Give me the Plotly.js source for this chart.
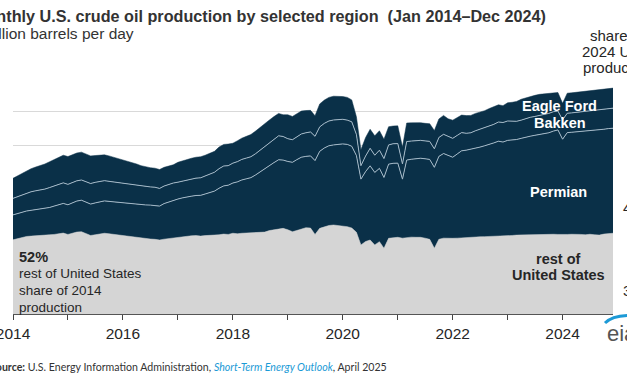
<!DOCTYPE html>
<html><head><meta charset="utf-8">
<script src="https://cdn.plot.ly/plotly-3.0.1.min.js"></script>
<style>html,body{margin:0;padding:0;background:#fff;overflow:hidden}</style>
</head><body><div id="chart" style="width:627px;height:376px"></div>
<script>
// Monthly values, Jan 2014 - Dec 2024, million barrels per day
const restOfUS = [
 4.40,4.48,4.55,4.60,4.62,4.65,4.66,4.68,4.70,4.72,4.76,4.80,
 4.72,4.80,4.86,4.88,4.78,4.66,4.70,4.76,4.79,4.76,4.72,4.69,
 4.66,4.62,4.59,4.55,4.50,4.46,4.45,4.43,4.39,4.44,4.48,4.50,
 4.55,4.59,4.62,4.64,4.65,4.62,4.65,4.66,4.65,4.70,4.74,4.72,
 4.79,4.76,4.79,4.80,4.79,4.80,4.82,4.86,4.95,5.00,5.05,5.08,
 5.00,4.88,4.95,5.05,5.12,5.10,4.72,5.08,5.18,5.25,5.28,5.25,
 5.22,5.18,5.10,4.85,4.10,4.30,4.39,4.10,4.29,3.90,4.49,4.52,
 4.55,4.50,4.55,4.56,4.55,4.55,4.50,4.43,3.90,4.43,4.50,4.48,
 4.49,4.50,4.52,4.55,4.55,4.57,4.58,4.59,4.60,4.62,4.63,4.60,
 4.65,4.66,4.68,4.69,4.69,4.70,4.68,4.70,4.72,4.72,4.73,4.72,
 4.70,4.72,4.73,4.74,4.72,4.70,4.73,4.70,4.68,4.74,4.76,4.79];
const permian = [
 1.48,1.48,1.49,1.51,1.53,1.54,1.55,1.57,1.62,1.68,1.74,1.76,
 1.76,1.80,1.84,1.87,1.86,1.86,1.89,1.91,1.92,1.92,1.93,1.94,
 1.95,1.97,1.98,1.99,2.00,2.01,2.01,2.02,2.01,2.11,2.17,2.22,
 2.27,2.30,2.33,2.35,2.38,2.42,2.47,2.54,2.64,2.76,2.86,2.92,
 2.98,3.08,3.16,3.22,3.30,3.45,3.62,3.76,3.86,3.98,4.10,4.05,
 4.05,4.12,4.20,4.25,4.23,4.28,4.38,4.57,4.67,4.73,4.75,4.80,
 4.87,4.88,4.85,4.55,3.90,4.15,4.40,4.30,4.35,4.20,4.40,4.42,
 4.40,3.50,4.58,4.62,4.66,4.69,4.71,4.74,4.80,4.92,5.02,4.95,
 4.81,5.00,5.16,5.17,5.22,5.26,5.32,5.39,5.45,5.53,5.62,5.60,
 5.65,5.66,5.67,5.73,5.81,5.85,5.92,5.95,5.96,6.03,6.12,6.20,
 5.67,6.04,6.05,6.06,6.10,6.14,6.13,6.18,6.24,6.22,6.24,6.23];
const bakken = [
 0.98,1.01,1.04,1.07,1.10,1.12,1.14,1.16,1.18,1.20,1.22,1.22,
 1.21,1.20,1.20,1.20,1.21,1.22,1.22,1.21,1.20,1.19,1.18,1.18,
 1.17,1.15,1.13,1.12,1.11,1.09,1.08,1.07,1.05,1.04,1.04,1.05,
 1.00,1.00,1.00,1.01,1.03,1.04,1.06,1.09,1.12,1.16,1.18,1.16,
 1.18,1.20,1.22,1.23,1.24,1.26,1.28,1.31,1.35,1.39,1.42,1.40,
 1.35,1.34,1.36,1.38,1.40,1.42,1.44,1.45,1.46,1.47,1.48,1.48,
 1.46,1.44,1.45,1.25,0.80,0.92,1.04,1.02,1.08,1.12,1.14,1.16,
 1.16,0.90,1.10,1.08,1.07,1.06,1.06,1.07,1.10,1.12,1.14,1.10,
 1.12,1.10,1.08,1.00,0.98,1.04,1.06,1.06,1.08,1.10,1.14,1.16,
 1.15,1.12,1.08,1.08,1.09,1.12,1.12,1.13,1.14,1.15,1.15,1.12,
 1.15,1.15,1.15,1.16,1.17,1.18,1.18,1.20,1.20,1.19,1.18,1.19];
const eagleFord = [
 1.19,1.23,1.27,1.32,1.37,1.41,1.45,1.49,1.53,1.57,1.60,1.64,
 1.65,1.65,1.65,1.65,1.65,1.64,1.59,1.55,1.53,1.51,1.47,1.43,
 1.37,1.34,1.30,1.24,1.19,1.16,1.14,1.13,1.12,1.11,1.11,1.08,
 1.18,1.20,1.22,1.24,1.24,1.25,1.24,1.23,1.24,1.28,1.28,1.28,
 1.18,1.24,1.26,1.29,1.32,1.34,1.36,1.36,1.35,1.34,1.33,1.29,
 1.42,1.38,1.36,1.36,1.32,1.28,1.22,1.36,1.38,1.40,1.41,1.39,
 1.35,1.35,1.30,1.05,0.95,1.10,1.13,1.15,1.15,1.15,1.08,1.05,
 1.05,1.00,1.10,1.08,1.07,1.05,1.04,1.05,1.08,1.10,1.12,1.05,
 1.08,1.05,1.04,1.05,1.03,1.03,1.02,1.02,1.06,1.05,1.02,1.00,
 1.08,1.12,1.18,1.24,1.24,1.23,1.25,1.25,1.24,1.20,1.15,1.10,
 0.98,1.19,1.19,1.19,1.21,1.20,1.21,1.22,1.18,1.20,1.20,1.19];
const tickYears = ['2014','2015','2016','2017','2018','2019','2020','2021','2022','2023','2024'];
const tickLabels = ['2014','','2016','','2018','','2020','','2022','','2024'];

// month axis Jan 2014 .. Dec 2024
const months = [];
for (let y = 2014; y <= 2024; y++) for (let m = 1; m <= 12; m++) months.push(y + '-' + String(m).padStart(2,'0') + '-01');

const NAVY = '#0a3048', GRAY = '#d5d5d5', SEP = '#a3b8c7';
const FONT = 'Liberation Sans, Arial, sans-serif';

const traces = [
 {x: months, y: restOfUS, name:'rest of United States', stackgroup:'one', mode:'lines',
  fillcolor: GRAY, line:{color: GRAY, width:0.5}},
 {x: months, y: permian, name:'Permian', stackgroup:'one', mode:'lines',
  fillcolor: NAVY, line:{color: SEP, width:1}},
 {x: months, y: bakken, name:'Bakken', stackgroup:'one', mode:'lines',
  fillcolor: NAVY, line:{color: SEP, width:1}},
 {x: months, y: eagleFord, name:'Eagle Ford', stackgroup:'one', mode:'lines',
  fillcolor: NAVY, line:{color: NAVY, width:0.5}}
];

// pixel -> paper helpers (plot area: x 13..613, y 78..314)
const px = v => (v - 13) / 600;
const py = v => (314 - v) / 236;

function ann(text, x, y, opts) {
  return Object.assign({text, x: px(x), y: py(y), xref:'paper', yref:'paper',
    showarrow:false, xanchor:'left', yanchor:'middle',
    font:{family:FONT, size:14, color:'#262626'}}, opts || {});
}

const annotations = [
  ann('<b>Monthly U.S. crude oil production by selected region  (Jan 2014–Dec 2024)</b>', 548, 16,
      {xanchor:'right', font:{family:FONT, size:16.2, color:'#333333'}}),
  ann('million barrels per day', 136, 33, {xanchor:'right', font:{family:FONT, size:15.5, color:'#333333'}}),
  ann('share of', 617, 35, {xanchor:'center', font:{family:FONT, size:15, color:'#262626'}}),
  ann('2024 U.S.', 616, 51, {xanchor:'center', font:{family:FONT, size:15, color:'#262626'}}),
  ann('production', 618, 68, {xanchor:'center', font:{family:FONT, size:15, color:'#262626'}}),
  ann('<b>Eagle Ford</b>', 559, 106, {xanchor:'center', font:{family:FONT, size:14.5, color:'#ffffff'}}),
  ann('<b>Bakken</b>', 560, 123, {xanchor:'center', font:{family:FONT, size:14.5, color:'#ffffff'}}),
  ann('<b>Permian</b>', 558, 192, {xanchor:'center', font:{family:FONT, size:14.5, color:'#ffffff'}}),
  ann('<b>rest of</b>', 558, 259, {xanchor:'center', font:{family:FONT, size:14.5, color:'#262626'}}),
  ann('<b>United States</b>', 558, 275, {xanchor:'center', font:{family:FONT, size:14.5, color:'#262626'}}),
  ann('<b>52%</b>', 17, 257, {font:{family:FONT, size:14.5, color:'#262626'}}),
  ann('rest of United States', 17, 273, {font:{family:FONT, size:13.5, color:'#262626'}}),
  ann('share of 2014', 17, 290, {font:{family:FONT, size:13.5, color:'#262626'}}),
  ann('production', 17, 307, {font:{family:FONT, size:13.5, color:'#262626'}}),
  ann('48%', 621, 207, {font:{family:FONT, size:15, color:'#262626'}}),
  ann('37%', 621, 290, {font:{family:FONT, size:15, color:'#262626'}}),
  ann('<b>Source:</b> U.S. Energy Information Administration, <i><span style="color:#1a9ad6">Short-Term Energy Outlook</span></i>, April 2025',
      389, 367, {xanchor:'right', font:{family:'Lato, Open Sans, sans-serif', size:10.6, color:'#333333'}}),
  ann('eia', 605, 333, {font:{family:FONT, size:22, color:'#555555'}})
];

const layout = {
  width:627, height:376,
  margin:{l:13, r:14, t:78, b:62, pad:0},
  paper_bgcolor:'#ffffff', plot_bgcolor:'#ffffff',
  showlegend:false, hovermode:false,
  xaxis:{type:'date', range:['2014-01-01','2024-12-01'],
    tickmode:'array', tickvals: tickYears.map(y => y + '-01-01'), ticktext: tickLabels,
    ticks:'outside', ticklen:5, tickcolor:'#444444', tickwidth:1, ticklabeloverflow:'allow',
    showline:true, linecolor:'#555555', linewidth:1, showgrid:false, zeroline:false,
    tickfont:{family:FONT, size:15.5, color:'#262626'}},
  yaxis:{range:[0,14], dtick:2, showticklabels:false, showgrid:true,
    gridcolor:'#d9d9d9', gridwidth:1, zeroline:false, showline:false, ticks:''},
  annotations,
  shapes:[{type:'path', xref:'paper', yref:'paper',
    path:'M ' + px(605) + ',' + py(323) + ' Q ' + px(612) + ',' + py(316) + ' ' + px(628) + ',' + py(315.5),
    line:{color:'#1d9ad6', width:3}}]
};

Plotly.newPlot('chart', traces, layout, {displayModeBar:false, staticPlot:true});
</script></body></html>
